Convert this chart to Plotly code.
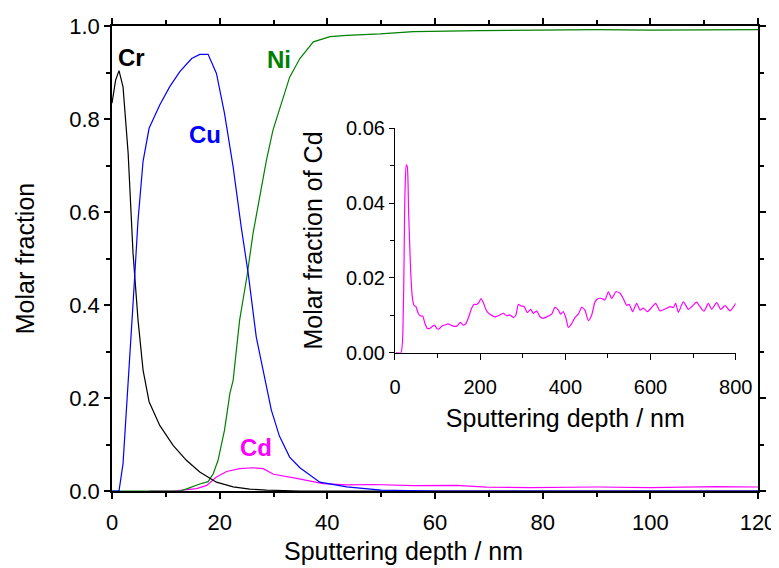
import plotly.graph_objects as go

# ---------------- data ----------------
cr_depth = [0, 0.68, 1.3, 2.05, 3.0, 3.91, 4.84, 5.77, 6.89, 8.87, 11.35, 13.82, 16.3,
            19.4, 22.5, 25.6, 28.7, 31.8, 35, 40, 50, 60, 80, 100, 120]
cr_frac = [0.834, 0.884, 0.904, 0.869, 0.726, 0.511, 0.367, 0.26, 0.192, 0.141, 0.098,
           0.066, 0.041, 0.019, 0.009, 0.004, 0.002, 0.001, 0, 0, 0, 0, 0, 0, 0]

cu_depth = [0, 1.3, 2.05, 3.0, 3.91, 4.84, 5.77, 6.89, 8.87, 10.7, 12.6, 14.8, 16.3,
            17.85, 19.4, 20.9, 22.5, 24.0, 25.3, 26.8, 28.4, 29.6, 31.1, 33.0, 34.9,
            38.6, 43.6, 50, 60, 80, 100, 120]
cu_frac = [0, 0, 0.059, 0.224, 0.403, 0.583, 0.709, 0.78, 0.83, 0.869, 0.902, 0.930,
           0.939, 0.939, 0.898, 0.812, 0.697, 0.568, 0.468, 0.331, 0.238, 0.174, 0.118,
           0.073, 0.05, 0.019, 0.009, 0.002, 0, 0, 0, 0]

ni_depth = [0, 12.7, 14.0, 16.3, 17.85, 18.8, 19.7, 20.9, 21.9, 22.5, 23.7, 25.1, 26.2,
            27.5, 28.7, 29.9, 31.3, 33.0, 34.9, 37.4, 40.5, 43.6, 49.8, 56, 68.3, 80,
            90, 100, 110, 120]
ni_frac = [0, 0, 0.005, 0.015, 0.02, 0.037, 0.066, 0.131, 0.21, 0.238, 0.367, 0.464,
           0.554, 0.64, 0.712, 0.776, 0.83, 0.89, 0.93, 0.966, 0.977, 0.98, 0.983,
           0.988, 0.99, 0.991, 0.992, 0.991, 0.992, 0.992]

cd_depth = [7.0, 11.4, 15.7, 17.6, 19.4, 21.3, 23.7, 26.2, 28.1, 29.1, 30.0, 34.3, 39.2,
            43.6, 48.5, 55.9, 64, 69.6, 77.6, 90, 100, 112.3, 120]
cd_frac = [0, 0, 0.005, 0.012, 0.03, 0.042, 0.048, 0.050, 0.048, 0.041, 0.036, 0.027,
           0.016, 0.013, 0.014, 0.0115, 0.012, 0.0085, 0.0072, 0.0086, 0.0072, 0.0093,
           0.0086]

# inset: Cd over the full depth
cd_in_depth = [2.3, 14, 19.6, 23.5, 26.6, 29, 32, 36.8, 40.7, 44.6, 49.3, 54.8, 60.3, 65,
               70.5, 76, 82, 88.4, 93, 98, 103, 109.6, 117, 125, 131, 137, 145, 154,
               160.5, 166.7, 172, 180, 185.5, 191.8, 197, 202, 207.4, 215, 223, 235,
               242.6, 254.4, 262, 270, 278, 284, 289.6, 296, 303.7, 310.8, 318.6, 324.9,
               332.7, 340.5, 348.3, 360, 368, 375.7, 383.6, 389, 395, 401.6, 407, 415,
               422.7, 430.5, 438.4, 446, 454, 462, 469.7, 477.5, 485.3, 493, 501, 509,
               519, 528.4, 536, 544, 550, 558, 567.5, 575.3, 583, 592.6, 602.7, 612,
               622.3, 634, 645.8, 653.6, 659, 665.4, 677, 689, 696.7, 708.4, 716.2,
               725.6, 735.8, 743.6, 755.4, 764.8, 775, 786.7, 800]
cd_in_frac = [0, 0, 0.0114, 0.0426, 0.0502, 0.0497, 0.038, 0.0221, 0.015, 0.0127, 0.0123,
              0.0105, 0.0098, 0.0098, 0.0078, 0.0065, 0.0065, 0.0071, 0.0074, 0.0065,
              0.0063, 0.0071, 0.0074, 0.0077, 0.0074, 0.0071, 0.0071, 0.0081, 0.0074,
              0.0078, 0.0092, 0.0119, 0.0129, 0.0129, 0.0134, 0.0145, 0.0134, 0.0112,
              0.0103, 0.0096, 0.0099, 0.0105, 0.0099, 0.0101, 0.0094, 0.0101, 0.0129,
              0.0125, 0.0123, 0.0107, 0.0116, 0.0105, 0.0112, 0.0096, 0.0092, 0.0098,
              0.0103, 0.0121, 0.0114, 0.0103, 0.011, 0.0092, 0.0068, 0.0078, 0.0094,
              0.0103, 0.0121, 0.0114, 0.0086, 0.0101, 0.0136, 0.0145, 0.0145, 0.0141,
              0.0163, 0.0145, 0.0163, 0.0159, 0.0145, 0.0127, 0.0129, 0.011, 0.0132,
              0.0114, 0.0119, 0.011, 0.0121, 0.0132, 0.0112, 0.0117, 0.0123, 0.0121,
              0.0132, 0.0108, 0.0136, 0.0116, 0.0123, 0.0135, 0.0123, 0.0111, 0.0132,
              0.0116, 0.0134, 0.0116, 0.0126, 0.0112, 0.0132]

labels = ["Cr", "Cu", "Ni", "Cd"]
label_x = [3.7, 17.2, 31.0, 26.8]
label_y = [0.933, 0.767, 0.929, 0.093]

BLACK, BLUE, GREEN, MAGENTA = "#000000", "#0000FF", "#008000", "#FF00FF"
FONT = "Arial, Liberation Sans, sans-serif"

fig = go.Figure()
fig.add_trace(go.Scatter(x=cd_depth, y=cd_frac, mode="lines", line=dict(color=MAGENTA, width=1.2)))
fig.add_trace(go.Scatter(x=ni_depth, y=ni_frac, mode="lines", line=dict(color=GREEN, width=1.2)))
fig.add_trace(go.Scatter(x=cr_depth, y=cr_frac, mode="lines", line=dict(color=BLACK, width=1.2)))
fig.add_trace(go.Scatter(x=cu_depth, y=cu_frac, mode="lines", line=dict(color=BLUE, width=1.2)))
fig.add_trace(go.Scatter(x=cd_in_depth, y=cd_in_frac, mode="lines",
                         line=dict(color=MAGENTA, width=1.2, shape="spline", smoothing=0.6),
                         xaxis="x2", yaxis="y2"))

for name, lx, ly, col in zip(labels, label_x, label_y, [BLACK, BLUE, GREEN, MAGENTA]):
    fig.add_annotation(x=lx, y=ly, xref="x", yref="y", text="<b>%s</b>" % name,
                       showarrow=False, font=dict(family=FONT, size=24, color=col))

# main x-axis title (placed left of centre, as in the reference)
fig.add_annotation(x=0.452, y=-0.128, xref="paper", yref="paper", xanchor="center",
                   yanchor="middle", text="Sputtering depth / nm", showarrow=False,
                   font=dict(family=FONT, size=25, color="black"))


def axis(lw, **kw):
    d = dict(showgrid=False, zeroline=False, showline=True, linecolor="black",
             linewidth=lw, ticks="outside", tickcolor="black", tickwidth=lw,
             ticklen=6, automargin=False)
    d.update(kw)
    return d


# the page body adds an 8px offset, so the figure is 16px smaller than the window
fig.update_layout(
    width=771, height=560,
    margin=dict(l=104, r=21, t=18, b=77),
    paper_bgcolor="white", plot_bgcolor="white",
    showlegend=False,
    font=dict(family=FONT, color="black"),
    xaxis=axis(1.5, range=[0, 120], dtick=20, mirror="ticks", ticklabelstandoff=5,
               minor=dict(dtick=10, ticks="outside", ticklen=4, tickcolor="black", tickwidth=1.5),
               tickfont=dict(size=22)),
    yaxis=axis(1.5, range=[0, 1.0], dtick=0.2, tickformat=".1f", mirror="ticks",
               minor=dict(dtick=0.1, ticks="outside", ticklen=4, tickcolor="black", tickwidth=1.5),
               tickfont=dict(size=22),
               title=dict(text="Molar fraction", font=dict(size=25), standoff=28)),
    xaxis2=axis(1, domain=[0.438, 0.9655], anchor="y2", range=[0, 800], dtick=200,
                ticklabelstandoff=10,
                minor=dict(dtick=100, ticks="outside", ticklen=4, tickcolor="black", tickwidth=1),
                tickfont=dict(size=20),
                title=dict(text="Sputtering depth / nm", font=dict(size=25), standoff=12)),
    yaxis2=axis(1, domain=[0.2974, 0.78], anchor="x2", range=[0, 0.06], dtick=0.02,
                tickformat=".2f", ticklen=5,
                minor=dict(dtick=0.01, ticks="outside", ticklen=4, tickcolor="black", tickwidth=1),
                tickfont=dict(size=20),
                title=dict(text="Molar fraction of Cd", font=dict(size=25), standoff=16)),
)

fig.write_html("out.html")
